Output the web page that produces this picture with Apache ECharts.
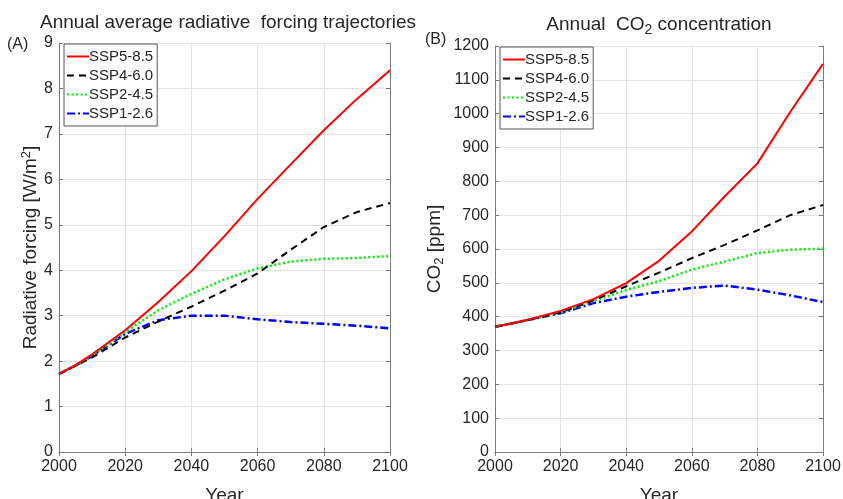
<!DOCTYPE html>
<html>
<head>
<meta charset="utf-8">
<script src="https://cdn.jsdelivr.net/npm/echarts@6/dist/echarts.min.js"></script>
<style>
  html, body { margin: 0; padding: 0; background: #fff; }
  #main { width: 843px; height: 499px; }
</style>
</head>
<body>
<div id="main"></div>
<script>
// years of the scenario points
const years = [2000, 2005, 2010, 2020, 2030, 2040, 2050, 2060, 2070, 2080, 2090, 2100];

// (A) radiative forcing, W/m2
const rf585 = [1.72, 1.91, 2.15, 2.68, 3.3, 3.98, 4.75, 5.57, 6.33, 7.08, 7.77, 8.4];
const rf460 = [1.72, 1.9, 2.08, 2.52, 2.87, 3.2, 3.55, 3.93, 4.45, 4.95, 5.28, 5.48];
const rf245 = [1.72, 1.9, 2.12, 2.64, 3.12, 3.48, 3.8, 4.04, 4.19, 4.25, 4.27, 4.31];
const rf126 = [1.72, 1.9, 2.11, 2.6, 2.9, 3.0, 3.0, 2.92, 2.86, 2.82, 2.78, 2.72];

// (B) CO2 concentration, ppm
const co585 = [370, 380, 391, 417, 452, 499, 565, 652, 755, 853, 1005, 1147];
const co460 = [370, 380, 390, 413, 448, 490, 530, 573, 612, 655, 700, 730];
const co245 = [370, 380, 390, 412, 446, 479, 505, 539, 563, 588, 598, 601];
const co126 = [370, 380, 390, 410, 440, 459, 473, 485, 492, 480, 463, 443];

const names = ["SSP5-8.5", "SSP4-6.0", "SSP2-4.5", "SSP1-2.6"];

const font = "Liberation Sans, Arial, sans-serif";
const textColor = "#262626";
const axisColor = "#7a7a7a";

const styles = [
  { color: "#ff0000", width: 2, type: "solid" },
  { color: "#000000", width: 2, type: [7, 5] },
  { color: "#00ee00", width: 2.5, type: [2, 2.5] },
  { color: "#0000ff", width: 2.5, type: [8, 3, 2, 3] }
];

function pairs(vals) {
  return years.map((y, i) => [y, vals[i]]);
}

function makeSeries(sets, idx) {
  return sets.map((vals, i) => ({
    name: names[i],
    type: "line",
    xAxisIndex: idx,
    yAxisIndex: idx,
    symbol: "none",
    z: 10 - i,
    lineStyle: styles[i],
    itemStyle: { color: styles[i].color },
    data: pairs(vals)
  }));
}

function plain(v) {
  return String(v);
}

function xAxisMain(gridIndex) {
  return {
    type: "value",
    gridIndex: gridIndex,
    min: 2000,
    max: 2100,
    interval: 20,
    name: "Year",
    nameLocation: "middle",
    nameGap: 34,
    nameTextStyle: { fontFamily: font, fontSize: 19, color: textColor },
    axisLine: { show: true, lineStyle: { color: axisColor } },
    axisTick: { show: true, inside: true, length: 4, lineStyle: { color: axisColor } },
    axisLabel: { fontFamily: font, fontSize: 16, color: textColor, margin: 7, formatter: plain },
    splitLine: { show: true, lineStyle: { color: "#e3e3e3" } }
  };
}

function xAxisTop(gridIndex) {
  return {
    type: "value",
    gridIndex: gridIndex,
    position: "top",
    min: 2000,
    max: 2100,
    interval: 20,
    axisLine: { show: true, lineStyle: { color: axisColor } },
    axisTick: { show: true, inside: true, length: 4, lineStyle: { color: axisColor } },
    axisLabel: { show: false },
    splitLine: { show: false }
  };
}

function yAxisMain(gridIndex, max, interval, name, gap) {
  return {
    type: "value",
    gridIndex: gridIndex,
    min: 0,
    max: max,
    interval: interval,
    name: name,
    nameLocation: "middle",
    nameGap: gap,
    nameTextStyle: {
      fontFamily: font, fontSize: 19, color: textColor,
      rich: {
        n: { fontFamily: font, fontSize: 19, color: textColor, lineHeight: 22 },
        sub: { fontFamily: font, fontSize: 13, color: textColor, lineHeight: 2, verticalAlign: "bottom" },
        sup: { fontFamily: font, fontSize: 13, color: textColor, lineHeight: 2, verticalAlign: "top" }
      }
    },
    axisLine: { show: true, lineStyle: { color: axisColor } },
    axisTick: { show: true, inside: true, length: 4, lineStyle: { color: axisColor } },
    axisLabel: { fontFamily: font, fontSize: 16, color: textColor, margin: 6, formatter: plain },
    splitLine: { show: true, lineStyle: { color: "#e3e3e3" } }
  };
}

function yAxisRight(gridIndex, max, interval) {
  return {
    type: "value",
    gridIndex: gridIndex,
    position: "right",
    min: 0,
    max: max,
    interval: interval,
    axisLine: { show: true, lineStyle: { color: axisColor } },
    axisTick: { show: true, inside: true, length: 4, lineStyle: { color: axisColor } },
    axisLabel: { show: false },
    splitLine: { show: false }
  };
}

function legendAt(left, top) {
  return {
    data: names,
    left: left,
    top: top,
    orient: "vertical",
    backgroundColor: "#fff",
    borderColor: "#555",
    borderWidth: 1,
    borderRadius: 0,
    padding: [5, 4, 5, 2],
    itemGap: 4,
    itemWidth: 22,
    itemHeight: 16,
    selectedMode: false,
    itemStyle: { opacity: 0 },
    textStyle: { fontFamily: font, fontSize: 15, color: textColor, padding: [0, 0, 0, -5] }
  };
}

let myChart = echarts.init(document.getElementById("main"), null, { renderer: "canvas" });
myChart.setOption({
  animation: false,
  backgroundColor: "#fff",
  title: [
    {
      text: "Annual average radiative  forcing trajectories",
      left: 223,
      top: 8,
      textAlign: "center",
      textStyle: { fontFamily: font, fontSize: 19, fontWeight: "normal", color: textColor }
    },
    {
      text: "{n|Annual  CO}{sub|2}{n| concentration}",
      left: 654,
      top: 8,
      textAlign: "center",
      textStyle: {
        fontFamily: font, fontSize: 19, fontWeight: "normal", color: textColor,
        rich: {
          n: { fontFamily: font, fontSize: 19, color: textColor, lineHeight: 24 },
          sub: { fontFamily: font, fontSize: 14, color: textColor, lineHeight: 2, verticalAlign: "bottom" }
        }
      }
    },
    {
      text: "(A)",
      left: 2,
      top: 32,
      textStyle: { fontFamily: font, fontSize: 16, fontWeight: "normal", color: textColor }
    },
    {
      text: "(B)",
      left: 420,
      top: 27,
      textStyle: { fontFamily: font, fontSize: 16, fontWeight: "normal", color: textColor }
    }
  ],
  legend: [legendAt(64, 44), legendAt(500, 47)],
  grid: [
    { left: 59, top: 43, width: 331, height: 409, outerBoundsMode: "none" },
    { left: 495, top: 46, width: 328, height: 406, outerBoundsMode: "none" }
  ],
  xAxis: [xAxisMain(0), xAxisMain(1), xAxisTop(0), xAxisTop(1)],
  yAxis: [
    yAxisMain(0, 9, 1, "{n|Radiative forcing [W/m}{sup|2}{n|]}", 13),
    yAxisMain(1, 1200, 100, "{n|CO}{sub|2}{n| [ppm]}", 49),
    yAxisRight(0, 9, 1),
    yAxisRight(1, 1200, 100)
  ],
  series: makeSeries([rf585, rf460, rf245, rf126], 0)
    .concat(makeSeries([co585, co460, co245, co126], 1))
});
</script>
</body>
</html>
